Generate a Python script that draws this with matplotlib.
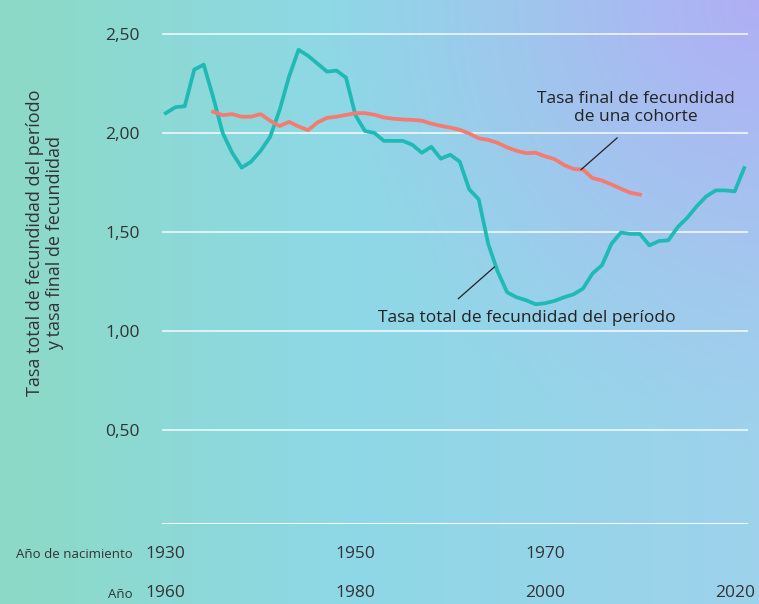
import matplotlib
matplotlib.use("Agg")
import matplotlib.pyplot as plt
import matplotlib.transforms as mtransforms
import numpy as np

plt.rcParams['font.family'] = ['Open Sans', 'DejaVu Sans']

# Tasa total de fecundidad del período (por año)
anios = np.arange(1960, 2022)
tasa_periodo = [
    2.10, 2.13, 2.135, 2.32, 2.345, 2.18, 2.00, 1.90, 1.825, 1.855,
    1.91, 1.98, 2.115, 2.285, 2.42, 2.39, 2.35, 2.31, 2.315, 2.28,
    2.09, 2.01, 2.00, 1.96, 1.96, 1.96, 1.94, 1.90, 1.93, 1.87,
    1.89, 1.855, 1.715, 1.665, 1.44, 1.30, 1.195, 1.17, 1.155, 1.135,
    1.14, 1.152, 1.17, 1.185, 1.214, 1.29, 1.332, 1.44, 1.497, 1.49,
    1.49, 1.432, 1.454, 1.458, 1.525, 1.572, 1.63, 1.68, 1.71, 1.71,
    1.705, 1.823,
]

# Tasa final de fecundidad de una cohorte (por año de nacimiento)
anios_nacimiento = np.arange(1935, 1981)
tasa_cohorte = [
    2.107, 2.09, 2.095, 2.082, 2.082, 2.095, 2.062, 2.035, 2.056, 2.033,
    2.014, 2.053, 2.076, 2.082, 2.091, 2.10, 2.10, 2.092, 2.078, 2.072,
    2.068, 2.066, 2.062, 2.047, 2.036, 2.027, 2.016, 1.997, 1.973, 1.965,
    1.95, 1.927, 1.91, 1.898, 1.90, 1.882, 1.868, 1.838, 1.818, 1.815,
    1.772, 1.76, 1.74, 1.718, 1.698, 1.689,
]
desfase = 30  # año de nacimiento + 30 = año

yticks = [0.5, 1.0, 1.5, 2.0, 2.5]
ytick_labels = ["0,50", "1,00", "1,50", "2,00", "2,50"]
xticks_anio = [1960, 1980, 2000, 2020]
xticks_nacimiento = [1930, 1950, 1970]

W, H = 759, 604
fig = plt.figure(figsize=(W / 100, H / 100), dpi=100)

# fondo degradado: menta -> cian -> azul claro, con lavanda arriba a la derecha
bg = fig.add_axes([0, 0, 1, 1], zorder=-10)
u = np.linspace(0, 1, 240)[None, :]
v = np.linspace(1, 0, 190)[:, None]
menta = np.array([0x8c, 0xda, 0xc6]) / 255
cian = np.array([0x8e, 0xd8, 0xe6]) / 255
azul = np.array([0x9e, 0xd2, 0xec]) / 255
lavanda = np.array([0xb0, 0xae, 0xf5]) / 255
base = np.zeros((190, 240, 3))
for c in range(3):
    base[..., c] = np.interp(u * np.ones_like(v), [0, 0.45, 1], [menta[c], cian[c], azul[c]])
dist = np.sqrt(((1 - u) * W / H) ** 2 + (1 - v) ** 2)
w = np.clip(1 - dist / 0.75, 0, 1) ** 1.3
img = base * (1 - w[..., None]) + lavanda * w[..., None]
bg.imshow(img, aspect='auto', extent=[0, 1, 0, 1], interpolation='bilinear')
bg.axis('off')

ax = fig.add_axes([162 / W, 1 - 524 / H, (748 - 162) / W, (524 - 30) / H])
ax.patch.set_alpha(0)

ax.plot(anios, tasa_periodo, color='#1fbab6', lw=2.7, solid_joinstyle='round', zorder=3)
ax.plot(anios_nacimiento + desfase, tasa_cohorte, color='#f47b70', lw=2.7,
        solid_joinstyle='round', zorder=4)

ax.set_xlim(1959.6, 2021.4)
ax.set_ylim(0.025, 2.52)

for y in yticks:
    ax.axhline(y, color='white', lw=1.2, alpha=0.85, zorder=1)
ax.axhline(0.025, color='white', lw=2.2, zorder=1)

for sp in ax.spines.values():
    sp.set_visible(False)
ax.set_yticks(yticks)
ax.set_yticklabels(ytick_labels, fontsize=12.5, color='#333333')
ax.tick_params(axis='y', length=0, pad=16)
ax.set_xticks([])

fig.text(45 / W, 1 - 243 / H, "Tasa total de fecundidad del período\ny tasa final de fecundidad",
         rotation=90, ha='center', va='center', fontsize=13, color='#333333',
         linespacing=1.15)

# filas de años bajo el eje
trans = mtransforms.blended_transform_factory(ax.transData, fig.transFigure)
for x, lab in zip(xticks_anio, xticks_nacimiento):
    ax.text(x, 1 - 554 / H, str(lab), transform=trans, ha='center', va='center',
            fontsize=12.5, color='#333333')
for x in xticks_anio:
    ax.text(x, 1 - 593 / H, str(x), transform=trans, ha='center', va='center',
            fontsize=12.5, color='#333333')
fig.text(133 / W, 1 - 555 / H, "Año de nacimiento", ha='right', va='center',
         fontsize=9.5, color='#333333')
fig.text(133 / W, 1 - 594 / H, "Año", ha='right', va='center',
         fontsize=9.5, color='#333333')

# anotaciones
ax.plot([2003.8, 2007.6], [1.815, 1.975], color='#222222', lw=0.9, zorder=5)
ax.text(2009.6, 2.125, "Tasa final de fecundidad\nde una cohorte", ha='center',
        va='center', fontsize=12.5, color='#222222', linespacing=1.15)
ax.plot([1994.65, 1990.85], [1.323, 1.163], color='#222222', lw=0.9, zorder=5)
ax.text(1998.1, 1.064, "Tasa total de fecundidad del período", ha='center',
        va='center', fontsize=12.5, color='#222222')

fig.savefig("out.png", dpi=100)
